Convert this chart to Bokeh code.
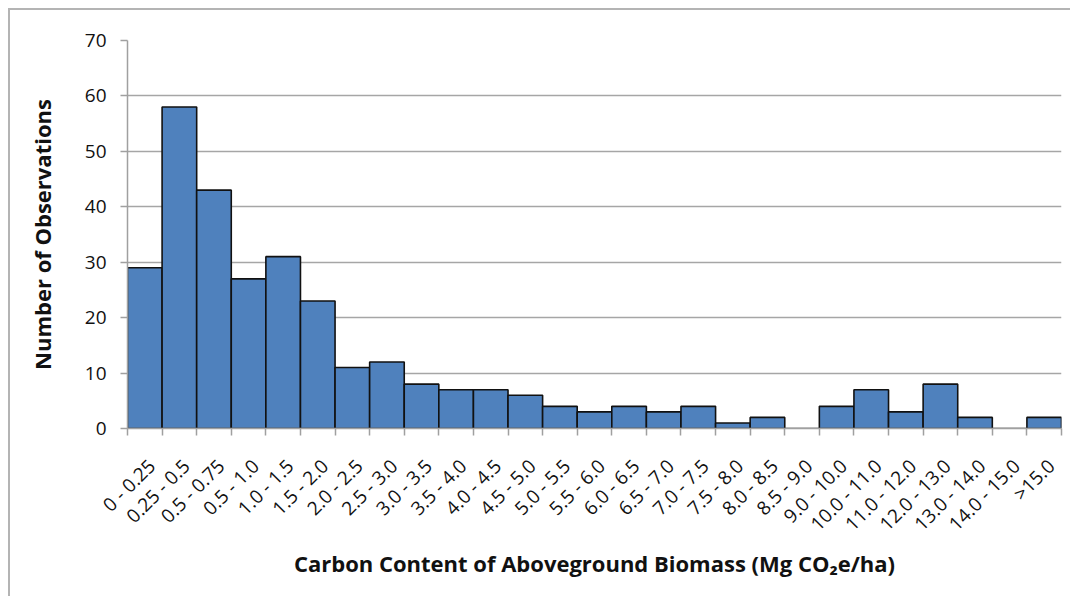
import numpy as np
from bokeh.plotting import figure
from bokeh.models import FixedTicker, ColumnDataSource, Range1d
from bokeh.embed import file_html
from bokeh.resources import INLINE

categories = ["0 - 0.25", "0.25 - 0.5", "0.5 - 0.75", "0.5 - 1.0", "1.0 - 1.5", "1.5 - 2.0",
              "2.0 - 2.5", "2.5 - 3.0", "3.0 - 3.5", "3.5 - 4.0", "4.0 - 4.5", "4.5 - 5.0",
              "5.0 - 5.5", "5.5 - 6.0", "6.0 - 6.5", "6.5 - 7.0", "7.0 - 7.5", "7.5 - 8.0",
              "8.0 - 8.5", "8.5 - 9.0", "9.0 - 10.0", "10.0 - 11.0", "11.0 - 12.0",
              "12.0 - 13.0", "13.0 - 14.0", "14.0 - 15.0", ">15.0"]
counts = [29, 58, 43, 27, 31, 23, 11, 12, 8, 7, 7, 6, 4, 3, 4, 3, 4, 1, 2, 0, 4, 7, 3, 8, 2, 0, 2]
y_ticks = [0, 10, 20, 30, 40, 50, 60, 70]

n = len(categories)
centers = [i + 0.5 for i in range(n)]
label_pos = [c + 0.2 for c in centers]
src = ColumnDataSource(dict(x=centers, top=counts))

p = figure(width=1062, height=588, output_backend="svg", toolbar_location=None,
           x_range=Range1d(0, n), y_range=Range1d(0, 70),
           min_border_left=117, min_border_top=30, min_border_right=11, min_border_bottom=170)
p.outline_line_color = None
p.background_fill_color = "white"
p.border_fill_color = "white"
p.styles = {"border-left": "2px solid #b4b4b4", "border-top": "2px solid #b4b4b4",
            "margin-left": "8px", "margin-top": "8px"}

p.vbar(x="x", top="top", width=1.0, bottom=0, source=src,
       fill_color="#4f81bd", line_color="#111111", line_width=1.6)

# y axis
p.yaxis.ticker = FixedTicker(ticks=y_ticks)
p.yaxis.axis_line_color = "#a0a0a0"
p.yaxis.axis_line_width = 1.5
p.yaxis.major_tick_line_color = "#a0a0a0"
p.yaxis.major_tick_line_width = 1.5
p.yaxis.major_tick_out = 7
p.yaxis.major_tick_in = 0
p.yaxis.minor_tick_line_color = None
p.yaxis.major_label_text_font = "Open Sans"
p.yaxis.major_label_text_font_size = "19px"
p.yaxis.major_label_text_color = "#111111"
p.yaxis.major_label_standoff = 14
p.yaxis.axis_label = "Number of Observations"
p.yaxis.axis_label_text_font = "Open Sans"
p.yaxis.axis_label_text_font_style = "bold"
p.yaxis.axis_label_text_font_size = "22px"
p.yaxis.axis_label_text_color = "#111111"
p.yaxis.axis_label_standoff = 25

# x axis
xt = FixedTicker(ticks=label_pos, minor_ticks=list(range(n + 1)))
p.xaxis.ticker = xt
p.xaxis.major_label_overrides = {c: lab for c, lab in zip(label_pos, categories)}
p.xaxis.major_label_orientation = np.pi / 4
p.xaxis.major_tick_line_color = None
p.xaxis.minor_tick_line_color = "#a0a0a0"
p.xaxis.minor_tick_line_width = 1.5
p.xaxis.minor_tick_out = 7
p.xaxis.minor_tick_in = 0
p.xaxis.major_tick_out = 7
p.xaxis.axis_line_color = "#a0a0a0"
p.xaxis.axis_line_width = 1.5
p.xaxis.major_label_text_font = "Open Sans"
p.xaxis.major_label_text_font_size = "19px"
p.xaxis.major_label_text_color = "#111111"
p.xaxis.major_label_standoff = 27
p.xaxis.axis_label = "Carbon Content of Aboveground Biomass (Mg CO\u2082e/ha)"
p.xaxis.axis_label_text_font = "Open Sans"
p.xaxis.axis_label_text_font_style = "bold"
p.xaxis.axis_label_text_font_size = "22px"
p.xaxis.axis_label_text_color = "#111111"
p.xaxis.axis_label_standoff = 0

p.xgrid.grid_line_color = None
p.ygrid.ticker = FixedTicker(ticks=y_ticks)
p.ygrid.grid_line_color = "#a6a6a6"
p.ygrid.grid_line_width = 1.5

open("out.html", "w").write(file_html(p, INLINE))
